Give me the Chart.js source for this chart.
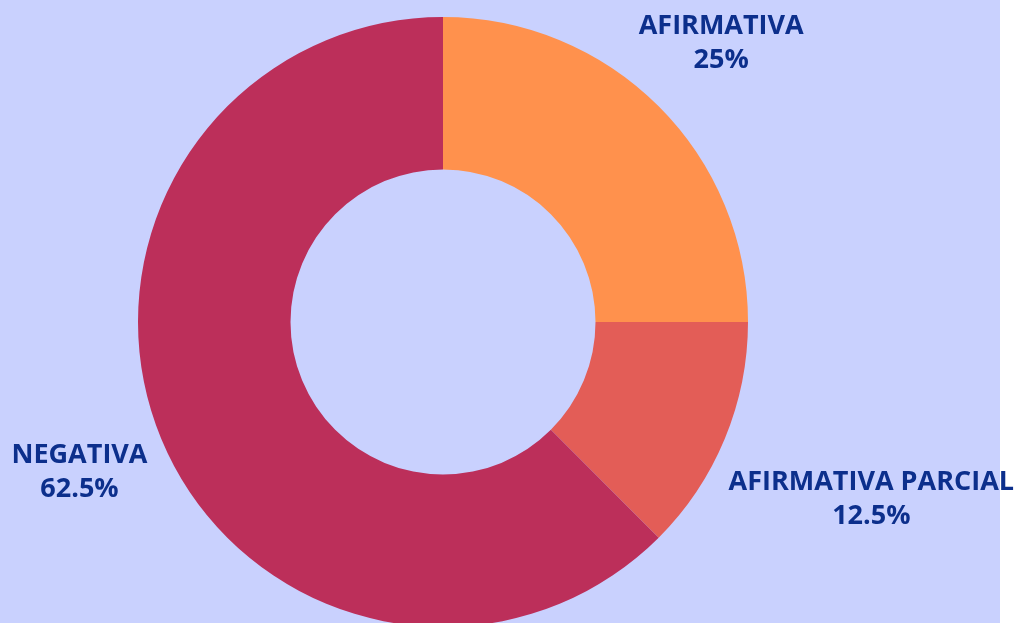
<!DOCTYPE html>
<html>
<head>
<meta charset="utf-8">
<script src="https://cdn.jsdelivr.net/npm/chart.js@4"></script>
<style>
  html, body { margin: 0; padding: 0; background: #ffffff; overflow: hidden; }
  #wrap { width: 1017px; height: 623px; position: relative; overflow: hidden; }
</style>
</head>
<body>
<div id="wrap"><canvas id="chart" width="1017" height="627"></canvas></div>
<script>
const categories = ["AFIRMATIVA", "AFIRMATIVA PARCIAL", "NEGATIVA"];
const values = [25, 12.5, 62.5];
const sliceColors = ["#FF914D", "#E35D57", "#BC2F5A"];
const labelDistance = [1.29, 1.52, 1.29]; // label radius as factor of outer radius

const panelBg = {
  id: "panelBg",
  beforeDraw(chart) {
    const ctx = chart.ctx;
    ctx.save();
    ctx.fillStyle = "#C9D1FE";
    ctx.fillRect(0, 0, 1000, chart.height);
    ctx.restore();
  },
};

const sliceLabels = {
  id: "sliceLabels",
  afterDatasetsDraw(chart) {
    const ctx = chart.ctx;
    const meta = chart.getDatasetMeta(0);
    ctx.save();
    ctx.fillStyle = "#0C2F8C";
    ctx.font = "bold 27px 'Open Sans'";
    ctx.textAlign = "center";
    ctx.textBaseline = "middle";
    meta.data.forEach((arc, i) => {
      const mid = (arc.startAngle + arc.endAngle) / 2;
      const r = arc.outerRadius * labelDistance[i];
      const x = arc.x + Math.cos(mid) * r;
      const y = arc.y + Math.sin(mid) * r;
      ctx.fillText(categories[i], x, y - 17);
      ctx.fillText(values[i] + "%", x, y + 17);
    });
    ctx.restore();
  },
};

new Chart(document.getElementById("chart"), {
  type: "doughnut",
  data: {
    labels: categories,
    datasets: [
      {
        data: values,
        backgroundColor: sliceColors,
        borderWidth: 0,
      },
    ],
  },
  options: {
    responsive: false,
    animation: false,
    cutout: "50%",
    layout: {
      padding: { left: 0, right: 131, top: 17, bottom: 0 },
    },
    plugins: {
      legend: { display: false },
      tooltip: { enabled: false },
    },
  },
  plugins: [panelBg, sliceLabels],
});
</script>
</body>
</html>
